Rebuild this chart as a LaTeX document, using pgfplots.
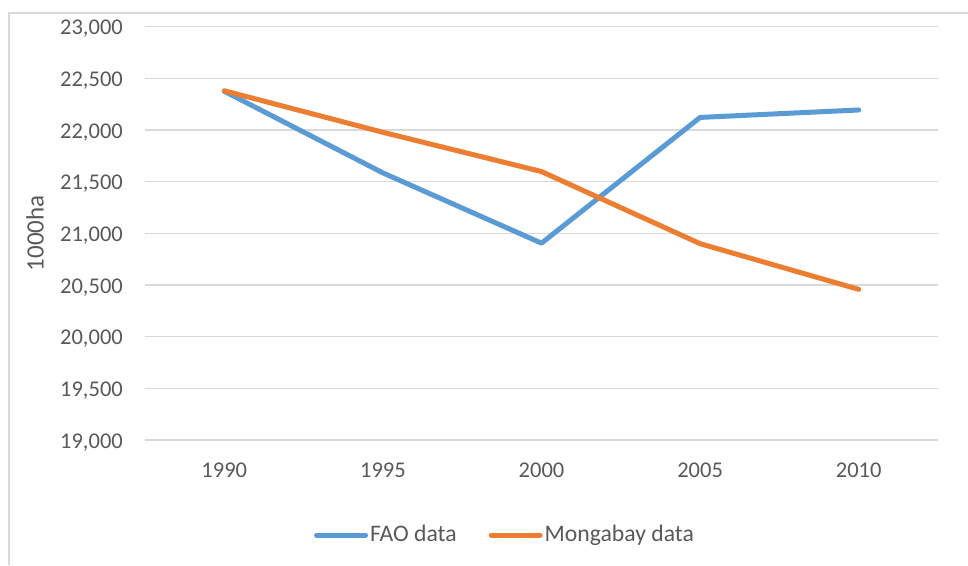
\documentclass[border=0pt]{standalone}
\usepackage{fontspec}
\setmainfont{Carlito}
\usepackage{pgfplots}
\pgfplotsset{compat=1.18}
\definecolor{fao}{HTML}{5B9BD5}
\definecolor{mong}{HTML}{ED7D31}
\definecolor{gridc}{HTML}{D9D9D9}
\definecolor{txt}{HTML}{595959}
\begin{document}
\fontsize{22.5}{27}\selectfont
\begin{tikzpicture}
\useasboundingbox (0,0) rectangle (968pt,565pt);
\draw[gridc, line width=1.2pt] (9pt,0) -- (9pt,552pt) -- (968pt,552pt);
\begin{axis}[
  at={(145pt,125pt)}, anchor=south west,
  scale only axis, width=793pt, height=413.3pt,
  xmin=-0.5, xmax=4.5, ymin=19000, ymax=23000,
  xtick={0,1,2,3,4}, xticklabels={1990,1995,2000,2005,2010},
  ytick={19000,19500,...,23000},
  scaled y ticks=false,
  /pgf/number format/.cd, fixed, precision=0, 1000 sep={,}, assume math mode=true,
  /pgfplots/.cd,
  axis line style={draw=none},
  major tick length=0pt,
  ymajorgrids, grid style={gridc, line width=1.3pt},
  tick label style={text=txt, font=\fontsize{22.5}{27}\selectfont},
  yticklabel style={anchor=base east, inner sep=0pt, xshift=-22pt, yshift=-8.3pt},
  xticklabel style={anchor=center, inner sep=0pt, yshift=-30pt},
  ylabel={\fontsize{25}{30}\selectfont 1000ha},
  ylabel style={at={(axis description cs:-0.1387,0.5)}, anchor=center, text=txt},
  legend style={at={(0.454,-0.23)}, anchor=center, draw=none, fill=none,
    legend columns=2, text=txt, font=\fontsize{23.7}{28}\selectfont,
    /tikz/every even column/.append style={column sep=30pt},
    nodes={inner sep=2pt}},
  legend image code/.code={\draw[#1, line width=5pt, line cap=round] (0pt,0pt) -- (49pt,0pt);},
]
\addplot[fao, line width=5pt, line cap=round, line join=round] coordinates {
  (0,22375) (1,21585) (2,20905) (3,22122) (4,22194)
};
\addlegendentry{FAO data}
\addplot[mong, line width=5pt, line cap=round, line join=round] coordinates {
  (0,22380) (1,21978) (2,21598) (3,20900) (4,20458)
};
\addlegendentry{Mongabay data}
\end{axis}
\end{tikzpicture}
\end{document}
